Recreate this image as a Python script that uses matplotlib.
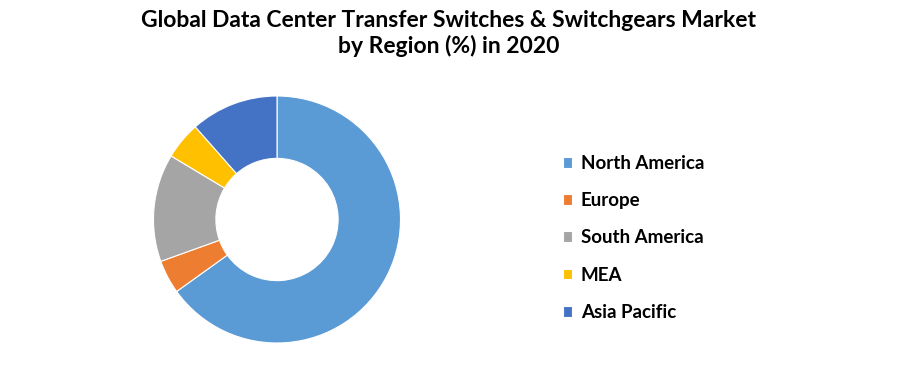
import matplotlib.pyplot as plt

# Region shares (%)
regions = ['North America', 'Europe', 'South America', 'MEA', 'Asia Pacific']
shares = [65.1, 4.4, 14.1, 4.9, 11.5]
colors = ['#5B9BD5', '#ED7D31', '#A5A5A5', '#FFC000', '#4472C4']

plt.rcParams['font.family'] = ['Lato', 'DejaVu Sans']

W, H = 897, 383
fig = plt.figure(figsize=(W / 100, H / 100), dpi=100)

# donut axes: center (277, 219.5), outer radius ~123.5 px
cx, cy, r = 277, 219.5, 123.5
ax = fig.add_axes([(cx - r) / W, 1 - (cy + r) / H, 2 * r / W, 2 * r / H])
wedges, _ = ax.pie(shares, colors=colors, startangle=90, counterclock=False,
                   radius=1, wedgeprops=dict(width=0.505, edgecolor='white', linewidth=0.8))
ax.set_xlim(-1, 1)
ax.set_ylim(-1, 1)
ax.set_aspect('equal')
ax.axis('off')

fig.suptitle('Global Data Center Transfer Switches & Switchgears Market\nby Region (%) in 2020',
             x=0.5, y=0.975, fontsize=16.5, fontweight='bold', linespacing=1.25)

leg = fig.legend(wedges, regions, loc='upper left', bbox_to_anchor=(546 / W, 1 - 138 / H),
                 frameon=False, fontsize=13.5, handlelength=0.5, handleheight=0.5,
                 handletextpad=0.45, labelspacing=1.08)
for t in leg.get_texts():
    t.set_fontweight('bold')

fig.savefig('out.png', dpi=100)
